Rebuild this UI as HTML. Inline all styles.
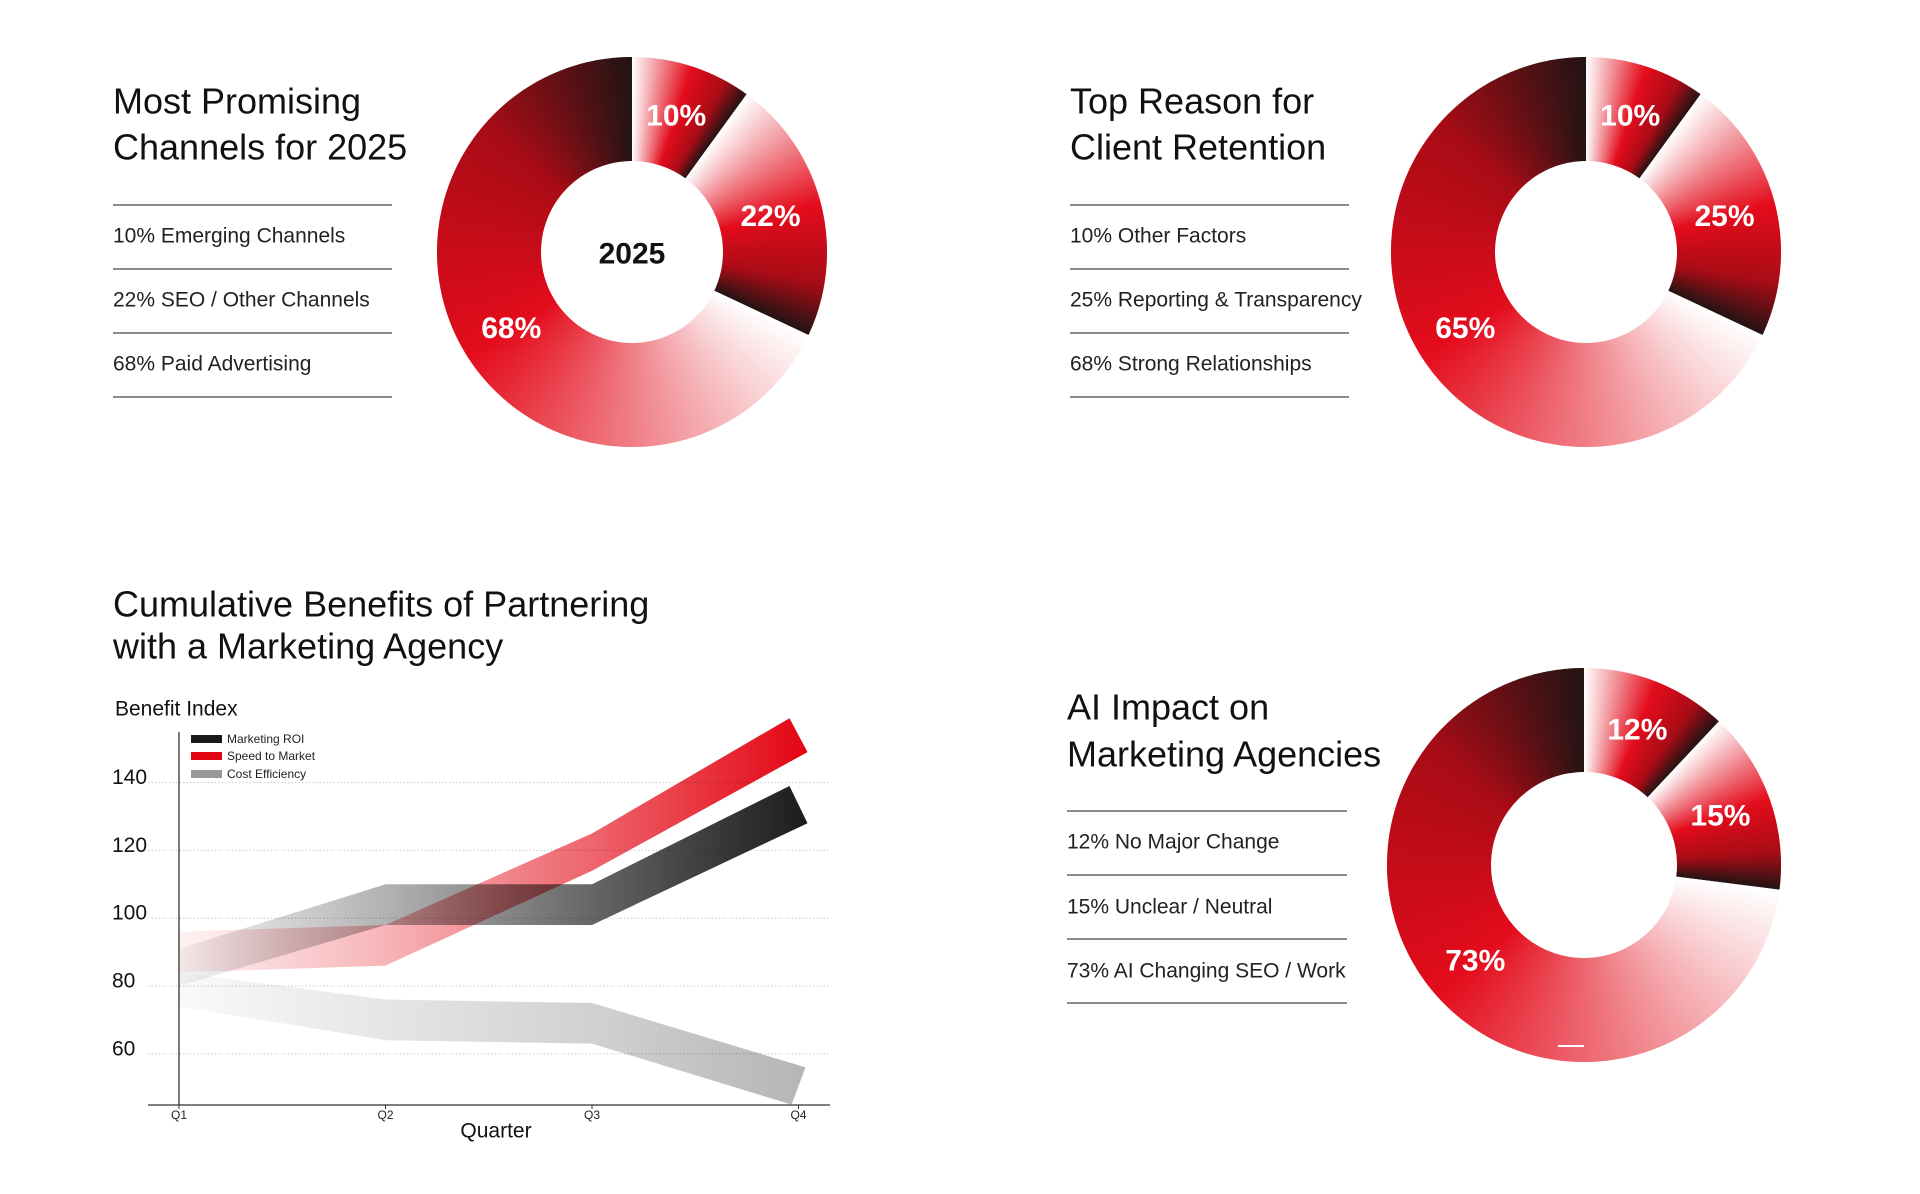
<!DOCTYPE html>
<html><head><meta charset="utf-8"><style>
html,body{margin:0;padding:0;background:#fff;}
body{width:1920px;height:1194px;overflow:hidden;position:relative;}
svg{position:absolute;left:0;top:0;}
text{font-family:"Liberation Sans",Arial,sans-serif;}
</style></head><body>
<svg id="page" width="1920" height="1194" viewBox="0 0 1920 1194" xmlns="http://www.w3.org/2000/svg">
<defs>
 <linearGradient id="gRoi" gradientUnits="userSpaceOnUse" x1="179" y1="0" x2="805" y2="0">
  <stop offset="0" stop-color="#000" stop-opacity="0.04"/>
  <stop offset="0.33" stop-color="#000" stop-opacity="0.3"/>
  <stop offset="0.66" stop-color="#000" stop-opacity="0.6"/>
  <stop offset="1" stop-color="#111" stop-opacity="0.95"/>
 </linearGradient>
 <linearGradient id="gSpeed" gradientUnits="userSpaceOnUse" x1="179" y1="0" x2="805" y2="0">
  <stop offset="0" stop-color="#e30613" stop-opacity="0.05"/>
  <stop offset="0.33" stop-color="#e30613" stop-opacity="0.3"/>
  <stop offset="0.66" stop-color="#e30613" stop-opacity="0.62"/>
  <stop offset="1" stop-color="#e30613" stop-opacity="1"/>
 </linearGradient>
 <linearGradient id="gCost" gradientUnits="userSpaceOnUse" x1="179" y1="0" x2="805" y2="0">
  <stop offset="0" stop-color="#999" stop-opacity="0.05"/>
  <stop offset="0.33" stop-color="#999" stop-opacity="0.25"/>
  <stop offset="0.66" stop-color="#999" stop-opacity="0.45"/>
  <stop offset="1" stop-color="#999" stop-opacity="0.72"/>
 </linearGradient>
</defs>

<g>
 <text x="113" y="101" font-size="36" fill="#111" dominant-baseline="central">Most Promising</text>
 <text x="113" y="147" font-size="36" fill="#111" dominant-baseline="central">Channels for 2025</text>
 <line x1="113" y1="205" x2="392" y2="205" stroke="#666" stroke-width="1.6"/>
 <text x="113" y="236" font-size="21" fill="#222" dominant-baseline="central">10% Emerging Channels</text>
 <line x1="113" y1="269" x2="392" y2="269" stroke="#666" stroke-width="1.6"/>
 <text x="113" y="300" font-size="21" fill="#222" dominant-baseline="central">22% SEO / Other Channels</text>
 <line x1="113" y1="333" x2="392" y2="333" stroke="#666" stroke-width="1.6"/>
 <text x="113" y="364" font-size="21" fill="#222" dominant-baseline="central">68% Paid Advertising</text>
 <line x1="113" y1="397" x2="392" y2="397" stroke="#666" stroke-width="1.6"/>
</g>
<g id="donut1"></g>
<text x="632" y="254" font-size="30" font-weight="bold" fill="#111" text-anchor="middle" dominant-baseline="central">2025</text>

<g>
 <text x="1070" y="101" font-size="36" fill="#111" dominant-baseline="central">Top Reason for</text>
 <text x="1070" y="147" font-size="36" fill="#111" dominant-baseline="central">Client Retention</text>
 <line x1="1070" y1="205" x2="1349" y2="205" stroke="#666" stroke-width="1.6"/>
 <text x="1070" y="236" font-size="21" fill="#222" dominant-baseline="central">10% Other Factors</text>
 <line x1="1070" y1="269" x2="1349" y2="269" stroke="#666" stroke-width="1.6"/>
 <text x="1070" y="300" font-size="21" fill="#222" dominant-baseline="central">25% Reporting &amp; Transparency</text>
 <line x1="1070" y1="333" x2="1349" y2="333" stroke="#666" stroke-width="1.6"/>
 <text x="1070" y="364" font-size="21" fill="#222" dominant-baseline="central">68% Strong Relationships</text>
 <line x1="1070" y1="397" x2="1349" y2="397" stroke="#666" stroke-width="1.6"/>
</g>
<g id="donut2"></g>

<g>
 <text x="1067" y="707" font-size="36" fill="#111" dominant-baseline="central">AI Impact on</text>
 <text x="1067" y="754" font-size="36" fill="#111" dominant-baseline="central">Marketing Agencies</text>
 <line x1="1067" y1="811" x2="1347" y2="811" stroke="#666" stroke-width="1.6"/>
 <text x="1067" y="842" font-size="21" fill="#222" dominant-baseline="central">12% No Major Change</text>
 <line x1="1067" y1="875" x2="1347" y2="875" stroke="#666" stroke-width="1.6"/>
 <text x="1067" y="907" font-size="21" fill="#222" dominant-baseline="central">15% Unclear / Neutral</text>
 <line x1="1067" y1="939" x2="1347" y2="939" stroke="#666" stroke-width="1.6"/>
 <text x="1067" y="971" font-size="21" fill="#222" dominant-baseline="central">73% AI Changing SEO / Work</text>
 <line x1="1067" y1="1003" x2="1347" y2="1003" stroke="#666" stroke-width="1.6"/>
</g>
<g id="donut3"></g>

<g>
 <text x="113" y="604" font-size="36" fill="#111" dominant-baseline="central">Cumulative Benefits of Partnering</text>
 <text x="113" y="646" font-size="36" fill="#111" dominant-baseline="central">with a Marketing Agency</text>
 <text x="115" y="709" font-size="21" fill="#111" dominant-baseline="central">Benefit Index</text>
 <g id="lineChart"></g>
 <text x="496" y="1131" font-size="21" fill="#111" text-anchor="middle" dominant-baseline="central">Quarter</text>
 <g>
  <rect x="191" y="735" width="31" height="8" fill="#1a1a1a"/>
  <text x="227" y="739" font-size="12" fill="#222" font-family="DejaVu Sans, sans-serif" dominant-baseline="central">Marketing ROI</text>
  <rect x="191" y="752" width="31" height="8" fill="#e30613"/>
  <text x="227" y="756" font-size="12" fill="#222" font-family="DejaVu Sans, sans-serif" dominant-baseline="central">Speed to Market</text>
  <rect x="191" y="770" width="31" height="8" fill="#999"/>
  <text x="227" y="774" font-size="12" fill="#222" font-family="DejaVu Sans, sans-serif" dominant-baseline="central">Cost Efficiency</text>
 </g>
</g>
</svg>
<script>
// ---- Donut data (slice sizes as drawn) ----
const channelsValues = [10, 22, 68];
const retentionValues = [10, 22, 68];
const aiImpactValues = [12, 15, 73];
// ---- Printed slice labels ----
const channelsLabels = ['10%', '22%', '68%'];
const retentionLabels = ['10%', '25%', '65%'];
const aiImpactLabels = ['12%', '15%', '73%'];
const channelsNames = ['emerging', 'seo', 'paid'];
const retentionNames = ['other', 'reporting', 'relationships'];
const aiImpactNames = ['no-change', 'unclear', 'changing'];

// ---- Line chart data ----
const quarters = ['Q1', 'Q2', 'Q3', 'Q4'];
const yTicks = [60, 80, 100, 120, 140];
const roiUpper = [91, 110, 110, 139];
const roiLower = [80, 98, 98, 128];
const speedUpper = [96, 98, 125, 159];
const speedLower = [84, 86, 114, 149];
const costUpper = [84, 76, 75, 56];
const costLower = [74, 64, 63, 45];

const NS = 'http://www.w3.org/2000/svg';
const stops = [[0,[255,255,255]],[0.18,[244,168,173]],[0.5,[228,12,28]],[0.8,[168,12,22]],[1,[35,20,20]]];
function colAt(t){
  for(let i=1;i<stops.length;i++){
    if(t<=stops[i][0]){
      const a=stops[i-1],b=stops[i];const u=(t-a[0])/(b[0]-a[0]);
      const c=a[1].map((v,k)=>Math.round(v+(b[1][k]-v)*u));
      return 'rgb('+c.join(',')+')';
    }
  }
  return 'rgb(35,20,20)';
}
function pt(cx,cy,r,deg){const a=deg*Math.PI/180;return [cx+r*Math.sin(a),cy-r*Math.cos(a)];}
function wedge(cx,cy,R,r,a0,a1){
  const p1=pt(cx,cy,R,a0),p2=pt(cx,cy,R,a1),p3=pt(cx,cy,r,a1),p4=pt(cx,cy,r,a0);
  const lg=(a1-a0)>180?1:0;
  return 'M'+p1+' A'+R+','+R+' 0 '+lg+' 1 '+p2+' L'+p3+' A'+r+','+r+' 0 '+lg+' 0 '+p4+'Z';
}
function drawDonut(id,prefix,cx,cy,R,r,values,labels,names){
  const g=document.getElementById(id);
  const total=values.reduce((a,b)=>a+b,0);
  let start=0;
  values.forEach((v,i)=>{
    const span=v/total*360;
    const sg=document.createElementNS(NS,'g');
    
    
    const N=Math.max(8,Math.round(span*1.5));
    for(let k=0;k<N;k++){
      const a0=start+span*k/N, a1=start+span*(k+1)/N+(k<N-1?0.3:0);
      const p=document.createElementNS(NS,'path');
      p.setAttribute('d',wedge(cx,cy,R,r,a0,a1));
      p.setAttribute('fill',colAt((k+0.5)/N));
      
      
      sg.appendChild(p);
    }
    g.appendChild(sg);
    const mid=start+span/2;const lp=pt(cx,cy,(R+r)/2,mid);
    const t=document.createElementNS(NS,'text');
    t.setAttribute('x',lp[0]);t.setAttribute('y',lp[1]);
    t.setAttribute('font-size','30');t.setAttribute('font-weight','bold');t.setAttribute('fill','#fff');
    t.setAttribute('text-anchor','middle');t.setAttribute('dominant-baseline','central');
    t.textContent=labels[i];
    
    
    g.appendChild(t);
    start+=span;
  });
}
drawDonut('donut1','channels',632,252,195,91,channelsValues,channelsLabels,channelsNames);
drawDonut('donut2','retention',1586,252,195,91,retentionValues,retentionLabels,retentionNames);
drawDonut('donut3','ai-impact',1584,865,197,93,aiImpactValues,aiImpactLabels,aiImpactNames);
(function(){
  const d=document.getElementById('donut3');
  const m=document.createElementNS(NS,'rect');
  m.setAttribute('x',1558);m.setAttribute('y',1045);m.setAttribute('width',26);m.setAttribute('height',2);m.setAttribute('fill','#fff');
  
  
  d.appendChild(m);
})();

const X0=179, XSTEP=206.5, Y80=986, PXU=3.39;
function xS(i){return X0+i*XSTEP;}
function yS(v){return Y80-(v-80)*PXU;}
const lc=document.getElementById('lineChart');
yTicks.forEach(v=>{
  const l=document.createElementNS(NS,'line');
  l.setAttribute('x1',148);l.setAttribute('x2',830);l.setAttribute('y1',yS(v));l.setAttribute('y2',yS(v));
  l.setAttribute('stroke','#ccc');l.setAttribute('stroke-width','1');l.setAttribute('stroke-dasharray','1.5,2');
  
  
  lc.appendChild(l);
  const t=document.createElementNS(NS,'text');
  t.setAttribute('x',112);t.setAttribute('y',yS(v)-5);t.setAttribute('font-size','21');t.setAttribute('fill','#111');
  t.setAttribute('dominant-baseline','central');t.textContent=v;
  
  
  lc.appendChild(t);
});
function band(upper,lower,fill,name,rising){
  const pts=[];
  upper.forEach((v,i)=>{let x=xS(i);if(i===3)x+=rising?-9:7;pts.push([x,yS(v)]);});
  for(let i=lower.length-1;i>=0;i--){let x=xS(i);if(i===3)x+=rising?9:-7;pts.push([x,yS(lower[i])]);}
  const p=document.createElementNS(NS,'polygon');
  p.setAttribute('points',pts.map(q=>q.join(',')).join(' '));
  p.setAttribute('fill',fill);
  p.style.mixBlendMode='multiply';
  
  
  lc.appendChild(p);
}
band(costUpper,costLower,'url(#gCost)','series-cost-efficiency',false);
band(roiUpper,roiLower,'url(#gRoi)','series-marketing-roi',true);
band(speedUpper,speedLower,'url(#gSpeed)','series-speed-to-market',true);
const ya=document.createElementNS(NS,'line');
ya.setAttribute('x1',X0);ya.setAttribute('x2',X0);ya.setAttribute('y1',732);ya.setAttribute('y2',1105);
ya.setAttribute('stroke','#333');ya.setAttribute('stroke-width','1.3');


lc.appendChild(ya);
const xa=document.createElementNS(NS,'line');
xa.setAttribute('x1',148);xa.setAttribute('x2',830);xa.setAttribute('y1',1105);xa.setAttribute('y2',1105);
xa.setAttribute('stroke','#333');xa.setAttribute('stroke-width','1.3');


lc.appendChild(xa);
quarters.forEach((q,i)=>{
  const tk=document.createElementNS(NS,'line');
  tk.setAttribute('x1',xS(i));tk.setAttribute('x2',xS(i));tk.setAttribute('y1',1105);tk.setAttribute('y2',1109);
  tk.setAttribute('stroke','#333');
  
  
  lc.appendChild(tk);
  const t=document.createElementNS(NS,'text');
  t.setAttribute('x',xS(i));t.setAttribute('y',1115);t.setAttribute('font-size','12');t.setAttribute('fill','#222');
  t.setAttribute('text-anchor','middle');t.setAttribute('dominant-baseline','central');
  t.setAttribute('font-family','DejaVu Sans Condensed, DejaVu Sans, sans-serif');
  t.textContent=q;
  
  
  lc.appendChild(t);
});
</script>
</body></html>
